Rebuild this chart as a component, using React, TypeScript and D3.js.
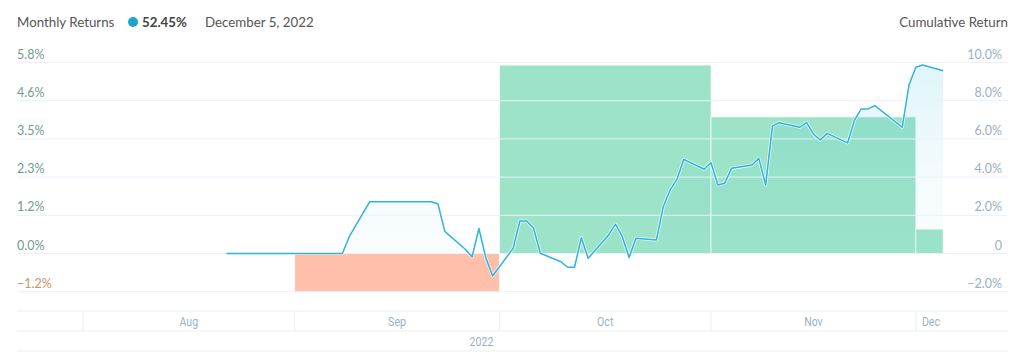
import React from 'react';
import * as d3 from 'd3';

const dates = [
  "2022-08-22", "2022-09-08", "2022-09-09", "2022-09-12", "2022-09-21", "2022-09-22", "2022-09-23",
  "2022-09-26", "2022-09-27", "2022-09-28", "2022-09-29", "2022-09-30",
  "2022-10-03", "2022-10-04", "2022-10-05", "2022-10-06", "2022-10-07",
  "2022-10-10", "2022-10-11", "2022-10-12", "2022-10-13", "2022-10-14",
  "2022-10-17", "2022-10-18", "2022-10-19", "2022-10-20", "2022-10-21",
  "2022-10-24", "2022-10-25", "2022-10-26", "2022-10-27", "2022-10-28",
  "2022-10-31", "2022-11-01", "2022-11-02", "2022-11-03", "2022-11-04",
  "2022-11-07", "2022-11-08", "2022-11-09", "2022-11-10", "2022-11-11",
  "2022-11-14", "2022-11-15", "2022-11-16", "2022-11-17", "2022-11-18",
  "2022-11-21", "2022-11-22", "2022-11-23", "2022-11-24", "2022-11-25",
  "2022-11-29", "2022-11-30", "2022-12-01", "2022-12-02", "2022-12-05",
];
const cumulativeReturns = [
  0, 0, 0.88, 2.71, 2.71, 2.59, 1.16,
  0.22, -0.17, 1.31, -0.21, -1.18,
  0.27, 1.70, 1.70, 1.32, 0.01,
  -0.43, -0.72, -0.72, 0.83, -0.25,
  0.97, 1.54, 0.88, -0.21, 0.80,
  0.71, 2.45, 3.32, 3.88, 4.93,
  4.41, 4.75, 3.59, 3.68, 4.46,
  4.63, 4.98, 3.59, 6.68, 6.85,
  6.61, 6.85, 6.26, 5.94, 6.29,
  5.79, 6.97, 7.57, 7.57, 7.74,
  6.61, 8.82, 9.75, 9.87, 9.57,
];

const monthStarts = ["2022-09-01", "2022-10-01", "2022-11-01", "2022-12-01"];
const monthEnds = ["2022-10-01", "2022-11-01", "2022-12-01", "2022-12-05"];
const monthlyReturns = [-1.17, 5.72, 4.15, 0.74];

const leftTicks = [-1.16, 0, 1.16, 2.32, 3.48, 4.64, 5.8];
const rightTicks = [-2, 0, 2, 4, 6, 8, 10];
const monthTicks = ["2022-08-01", "2022-09-01", "2022-10-01", "2022-11-01", "2022-12-01"];
const monthLabels = ["Aug", "Sep", "Oct", "Nov", "Dec"];
const yearLabel = "2022";

const parse = (s: string) => {
  const [y, m, d] = s.split("-").map(Number);
  return new Date(y, m - 1, d);
};

export default function App() {
  const W = 1024, H = 361;
  const left = 17, right = 1008;
  const xStart = new Date(2022, 6, 22, 8);
  const xEnd = new Date(2022, 11, 5, 10);
  const x = d3.scaleTime().domain([xStart, xEnd]).range([17, 946]);
  const yTop = 62.5, yBot = 291.7;
  const yL = d3.scaleLinear().domain([-1.16, 5.8]).range([yBot, yTop]);
  const yR = d3.scaleLinear().domain([-2, 10]).range([yBot, yTop]);

  const pts = dates.map((d, i) => ({ d: parse(d), v: cumulativeReturns[i] }));
  const line = d3.line<{ d: Date; v: number }>().x(p => x(p.d)).y(p => yR(p.v));
  const area = d3.area<{ d: Date; v: number }>().x(p => x(p.d)).y0(yR(0)).y1(p => yR(p.v));

  const fmtL = d3.format(".1f");
  const fmtR = (v: number) => (v === 0 ? "0" : d3.format(".1f")(v) + "%");
  const font = "Lato, 'Open Sans', sans-serif";

  const tickXs = monthTicks.map(t => x(parse(t)));
  const labelXs = tickXs.map((tx, i) => (tx + (i < tickXs.length - 1 ? tickXs[i + 1] : x(xEnd))) / 2);

  return (
    <svg width={W} height={H} style={{ position: 'absolute', left: 0, top: 0, background: '#fff' }}>
      <defs>
        <linearGradient id="ag" gradientUnits="userSpaceOnUse" x1="0" y1={yTop} x2="0" y2={yR(0)}>
          <stop offset="0" stopColor="#19b6d9" stopOpacity={0.14} />
          <stop offset="0.6" stopColor="#19b6d9" stopOpacity={0.05} />
          <stop offset="1" stopColor="#19b6d9" stopOpacity={0.02} />
        </linearGradient>
      </defs>
      {/* header */}
      <text x={17} y={27} fontFamily={font} fontSize={13.3} fill="#555">Monthly Returns</text>
      <circle cx={133} cy={22} r={5} fill="#1ba6c9" />
      <text x={142} y={27} fontFamily={font} fontSize={13.3} fontWeight={700} fill="#444">52.45%</text>
      <text x={205} y={27} fontFamily={font} fontSize={13.3} fill="#555">December 5, 2022</text>
      <text x={1008} y={27} fontFamily={font} fontSize={13.3} fill="#555" textAnchor="end">Cumulative Return</text>

      {/* bars */}
      {monthlyReturns.map((v, i) => {
        const x0 = x(parse(monthStarts[i]));
        const x1 = x(parse(monthEnds[i]));
        const y0 = yL(0), y1 = yL(v);
        return (
          <rect key={i} x={x0} width={x1 - x0} y={Math.min(y0, y1)} height={Math.abs(y1 - y0)}
            fill={v >= 0 ? "#9de3c8" : "#ffbfab"} stroke="#ffffff" strokeOpacity={0.7} strokeWidth={1} />
        );
      })}

      {/* area */}
      <path d={area(pts) || ""} fill="url(#ag)" />

      {/* gridlines */}
      {leftTicks.map((t, i) => (
        <line key={i} x1={left} x2={right} y1={yL(t)} y2={yL(t)} stroke="#e9f1f9" strokeWidth={1} />
      ))}

      <path d={line(pts) || ""} fill="none" stroke="#ffffff" strokeOpacity={0.7} strokeWidth={3.2} strokeLinejoin="round" />
      <path d={line(pts) || ""} fill="none" stroke="#2fb2db" strokeWidth={1.5} strokeLinejoin="round" />

      {/* left labels */}
      {leftTicks.map((t, i) => (
        <text key={i} x={17} y={yL(t) - 4} fontFamily={font} fontSize={12.5}
          fill={t < 0 ? "#c9946c" : "#739b90"}>{fmtL(t)}%</text>
      ))}
      {/* right labels */}
      {rightTicks.map((t, i) => (
        <text key={i} x={1002} y={yR(t) - 4} fontFamily={font} fontSize={12.5} textAnchor="end"
          fill="#9dafbf">{fmtR(t)}</text>
      ))}

      {/* x axis band */}
      {[311, 331, 351].map((yy, i) => (
        <line key={i} x1={left} x2={right} y1={yy} y2={yy} stroke="#e8f0f7" strokeWidth={1} />
      ))}
      {tickXs.map((tx, i) => (
        <line key={i} x1={tx} x2={tx} y1={311} y2={331} stroke="#e8f0f7" strokeWidth={1} />
      ))}
      {monthLabels.map((m, i) => (
        <text key={i} x={labelXs[i]} y={326} fontFamily="Roboto, sans-serif" fontSize={12} textAnchor="middle"
          fill="#9db0c4" transform={`translate(${labelXs[i]},0) scale(0.88,1) translate(${-labelXs[i]},0)`}>{m}</text>
      ))}
      <text x={(17 + x(xEnd)) / 2} y={346} fontFamily="Roboto, sans-serif" fontSize={12} textAnchor="middle"
        fill="#9db0c4" transform={`translate(${(17 + x(xEnd)) / 2},0) scale(0.88,1) translate(${-(17 + x(xEnd)) / 2},0)`}>{yearLabel}</text>
    </svg>
  );
}
